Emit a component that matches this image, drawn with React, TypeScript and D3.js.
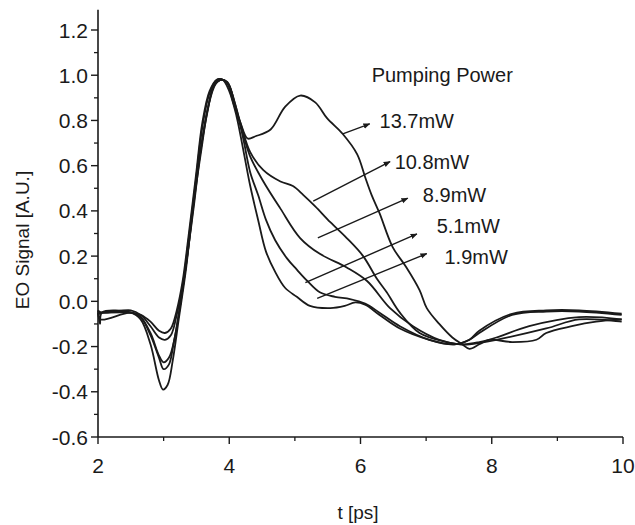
import React from "react";
import * as d3 from "d3";

// ---- data (t in ps, EO signal in A.U.) ----
const t137 = [2.0, 2.03, 2.06, 2.5, 2.65, 2.8, 2.93, 2.99, 3.06, 3.14, 3.23, 3.34, 3.44, 3.56, 3.67, 3.76, 3.87, 3.96, 4.06, 4.17, 4.28, 4.4, 4.63, 4.85, 5.08, 5.31, 5.49, 5.73, 5.95, 6.07, 6.17, 6.29, 6.49, 6.7, 6.9, 7.01, 7.2, 7.4, 7.55, 7.66, 7.81, 7.96, 8.31, 8.68, 8.83, 9.22, 9.59, 9.98];
const v137 = [-0.04, -0.1, -0.05, -0.05, -0.08, -0.19, -0.35, -0.39, -0.37, -0.26, -0.08, 0.14, 0.4, 0.66, 0.84, 0.95, 0.98, 0.97, 0.88, 0.79, 0.72, 0.73, 0.76, 0.86, 0.91, 0.88, 0.81, 0.74, 0.65, 0.55, 0.47, 0.39, 0.24, 0.15, 0.05, -0.03, -0.1, -0.16, -0.19, -0.21, -0.19, -0.17, -0.18, -0.17, -0.14, -0.11, -0.09, -0.08];

const t108 = [2.0, 2.05, 2.5, 2.65, 2.8, 2.93, 3.0, 3.08, 3.15, 3.24, 3.35, 3.46, 3.56, 3.67, 3.78, 3.87, 3.97, 4.08, 4.19, 4.32, 4.52, 4.78, 4.97, 5.13, 5.31, 5.54, 5.79, 6.04, 6.25, 6.4, 6.6, 6.9, 7.31, 7.58, 7.81, 8.07, 8.57, 9.33, 9.98];
const v108 = [-0.06, -0.05, -0.05, -0.07, -0.15, -0.25, -0.3, -0.28, -0.19, -0.04, 0.18, 0.42, 0.66, 0.85, 0.96, 0.98, 0.97, 0.88, 0.77, 0.66, 0.58, 0.53, 0.51, 0.47, 0.42, 0.35, 0.28, 0.2, 0.1, 0.04, -0.05, -0.14, -0.18, -0.19, -0.18, -0.16, -0.11, -0.07, -0.08];

const t89 = [2.0, 2.04, 2.5, 2.65, 2.8, 2.93, 3.0, 3.08, 3.17, 3.26, 3.37, 3.47, 3.58, 3.68, 3.79, 3.88, 3.99, 4.09, 4.2, 4.32, 4.52, 4.78, 5.08, 5.38, 5.79, 6.1, 6.45, 6.8, 7.2, 7.51, 7.66, 8.07, 8.83, 9.33, 9.98];
const v89 = [-0.05, -0.08, -0.05, -0.07, -0.14, -0.24, -0.27, -0.25, -0.16, 0.0, 0.22, 0.46, 0.68, 0.86, 0.96, 0.98, 0.96, 0.86, 0.75, 0.64, 0.53, 0.41, 0.28, 0.21, 0.15, 0.09, -0.03, -0.11, -0.17, -0.19, -0.19, -0.17, -0.12, -0.08, -0.09];

const t51 = [2.0, 2.05, 2.5, 2.65, 2.8, 2.93, 3.02, 3.11, 3.2, 3.29, 3.38, 3.49, 3.59, 3.7, 3.81, 3.9, 4.0, 4.11, 4.22, 4.32, 4.44, 4.56, 4.7, 4.88, 5.03, 5.19, 5.38, 5.61, 5.84, 6.07, 6.29, 6.6, 7.05, 7.43, 7.66, 7.81, 8.31, 8.83, 9.33, 9.98];
const v51 = [-0.04, -0.05, -0.04, -0.06, -0.11, -0.16, -0.17, -0.15, -0.06, 0.07, 0.27, 0.53, 0.77, 0.92, 0.98, 0.98, 0.95, 0.85, 0.71, 0.57, 0.47, 0.36, 0.27, 0.19, 0.14, 0.09, 0.04, 0.02, 0.01, -0.01, -0.05, -0.11, -0.17, -0.19, -0.17, -0.14, -0.06, -0.045, -0.045, -0.06];

const t19 = [2.0, 2.05, 2.5, 2.65, 2.8, 2.93, 3.02, 3.11, 3.2, 3.29, 3.38, 3.49, 3.59, 3.7, 3.81, 3.9, 4.0, 4.11, 4.22, 4.32, 4.44, 4.56, 4.7, 4.85, 5.03, 5.23, 5.54, 5.76, 5.92, 6.07, 6.29, 6.6, 7.05, 7.43, 7.66, 7.81, 8.31, 8.83, 9.33, 9.98];
const v19 = [-0.05, -0.05, -0.05, -0.06, -0.09, -0.13, -0.14, -0.12, -0.04, 0.09, 0.29, 0.55, 0.79, 0.93, 0.98, 0.98, 0.93, 0.82, 0.66, 0.51, 0.36, 0.22, 0.13, 0.06, 0.02, -0.02, -0.03, -0.02, -0.005, -0.015, -0.06, -0.12, -0.17, -0.19, -0.17, -0.13, -0.055, -0.04, -0.04, -0.055];

const seriesT = [t137, t108, t89, t51, t19];
const seriesV = [v137, v108, v89, v51, v19];

// legend labels, arrow start (on curve) and arrow tip, label anchor (data coords)
const labels = ["13.7mW", "10.8mW", "8.9mW", "5.1mW", "1.9mW"];
const arrowT0 = [5.73, 5.28, 5.35, 5.16, 5.34];
const arrowV0 = [0.741, 0.443, 0.281, 0.083, 0.013];
const arrowT1 = [6.14, 6.45, 6.72, 6.86, 7.01];
const arrowV1 = [0.785, 0.618, 0.456, 0.298, 0.211];
const labelT = [6.29, 6.52, 6.95, 7.16, 7.28];
const labelV = [0.8, 0.615, 0.469, 0.332, 0.199];
const legendTitle = "Pumping Power";
const legendTitleT = 6.17;
const legendTitleV = 1.0;

const xMajor = [2, 4, 6, 8, 10];
const xMinor = [3, 5, 7, 9];
const yMajor = [-0.6, -0.4, -0.2, 0.0, 0.2, 0.4, 0.6, 0.8, 1.0, 1.2];
const yMinor = [-0.5, -0.3, -0.1, 0.1, 0.3, 0.5, 0.7, 0.9, 1.1];

export default function App() {
  const W = 635, H = 525;
  const x = d3.scaleLinear().domain([2, 10]).range([98, 623]);
  const y = d3.scaleLinear().domain([-0.6, 1.2]).range([437, 30]);
  const ink = "#1a1a1a";
  const font = "Arial, 'Liberation Sans', Helvetica, sans-serif";

  const line = d3
    .line<[number, number]>()
    .x((d) => x(d[0]))
    .y((d) => y(d[1]))
    .curve(d3.curveCatmullRom.alpha(0.5));

  const x0 = x(2);
  const y0 = y(-0.6);

  return (
    <div style={{ position: "fixed", left: 0, top: 0 }}>
      <svg width={W} height={H} style={{ display: "block", background: "#fff" }}>
        <defs>
          <marker id="ah" viewBox="0 0 10 10" refX="9" refY="5" markerWidth="7" markerHeight="7" orient="auto" markerUnits="userSpaceOnUse">
            <path d="M0,1 L10,5 L0,9 Z" fill={ink} />
          </marker>
        </defs>

        {/* axes */}
        <line x1={x0} x2={x0} y1={y0} y2={y(1.29)} stroke={ink} strokeWidth={1.6} />
        <line x1={x0} x2={x(10)} y1={y0} y2={y0} stroke={ink} strokeWidth={1.6} />
        {yMajor.map((v) => (
          <g key={"ym" + v}>
            <line x1={x0 - 7} x2={x0} y1={y(v)} y2={y(v)} stroke={ink} strokeWidth={1.4} />
            <text x={x0 - 10} y={y(v)} dy="0.36em" textAnchor="end" fontFamily={font} fontSize={21} fill={ink}>
              {d3.format(".1f")(v).replace("−", "-")}
            </text>
          </g>
        ))}
        {yMinor.map((v) => (
          <line key={"yn" + v} x1={x0 - 4} x2={x0} y1={y(v)} y2={y(v)} stroke={ink} strokeWidth={1.3} />
        ))}
        {xMajor.map((t) => (
          <g key={"xm" + t}>
            <line x1={x(t)} x2={x(t)} y1={y0} y2={y0 + 7} stroke={ink} strokeWidth={1.4} />
            <text x={x(t)} y={y0 + 36} textAnchor="middle" fontFamily={font} fontSize={21} fill={ink}>
              {t}
            </text>
          </g>
        ))}
        {xMinor.map((t) => (
          <line key={"xn" + t} x1={x(t)} x2={x(t)} y1={y0} y2={y0 + 4} stroke={ink} strokeWidth={1.3} />
        ))}

        <text x={358} y={519} textAnchor="middle" fontFamily={font} fontSize={19} fill={ink}>
          t [ps]
        </text>
        <text transform="translate(29,240) rotate(-90)" textAnchor="middle" fontFamily={font} fontSize={19} fill={ink}>
          EO Signal [A.U.]
        </text>

        {/* curves */}
        {seriesT.map((ts, i) => (
          <path
            key={"c" + i}
            d={line(ts.map((t, j) => [t, seriesV[i][j]] as [number, number])) || ""}
            fill="none"
            stroke={ink}
            strokeWidth={1.8}
            strokeLinejoin="round"
          />
        ))}

        {/* annotations */}
        <text x={x(legendTitleT)} y={y(legendTitleV)} dy="0.36em" fontFamily={font} fontSize={20} fill={ink}>
          {legendTitle}
        </text>
        {labels.map((lab, i) => (
          <g key={"l" + i}>
            <line
              x1={x(arrowT0[i])}
              y1={y(arrowV0[i])}
              x2={x(arrowT1[i])}
              y2={y(arrowV1[i])}
              stroke={ink}
              strokeWidth={1.4}
              markerEnd="url(#ah)"
            />
            <text x={x(labelT[i])} y={y(labelV[i])} dy="0.36em" fontFamily={font} fontSize={20} fill={ink}>
              {lab}
            </text>
          </g>
        ))}
      </svg>
    </div>
  );
}
